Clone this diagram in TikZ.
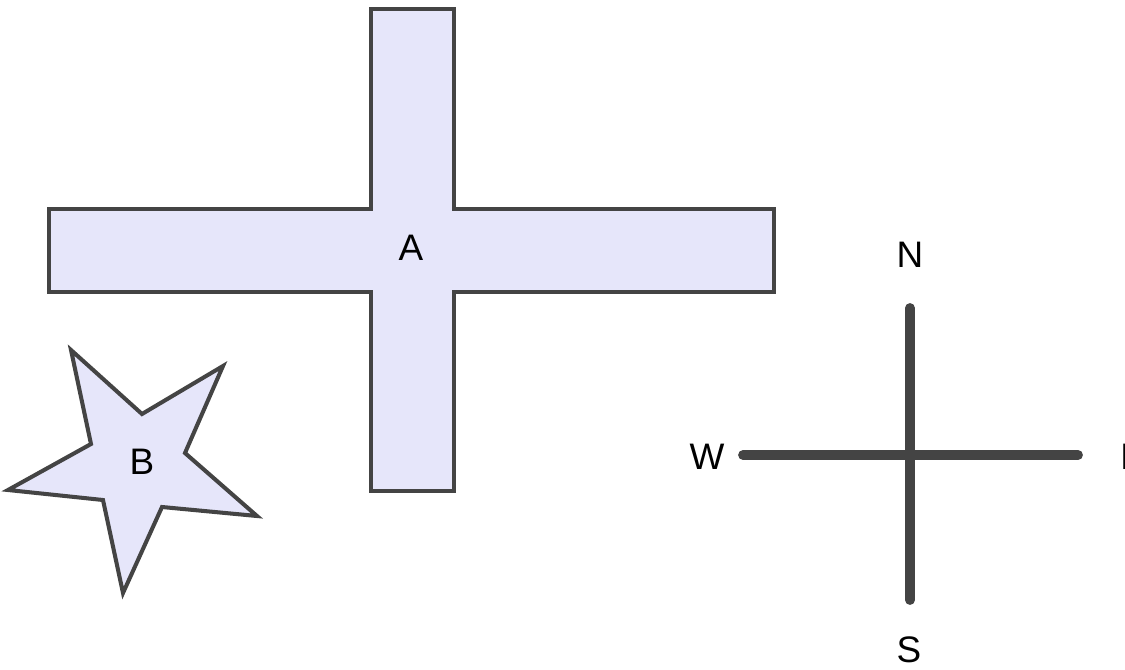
\documentclass[tikz,border=0pt]{standalone}
\usepackage{fontspec}
\setmainfont{Liberation Sans}
\usepackage{tikz}
\usetikzlibrary{positioning}
\definecolor{Ink}{HTML}{444444}
\definecolor{Lilac}{HTML}{E6E6FA}

\tikzset{
  shapeline/.style={draw=Ink,fill=Lilac,line width=2.3pt,line join=miter},
  needle/.style={draw=Ink,line width=5.6pt,line cap=round},
  tag/.style={font=\fontsize{21}{25}\selectfont,text=black,inner sep=0pt}
}

\begin{document}
\begin{tikzpicture}[x=0.02cm,y=-0.02cm]
  \useasboundingbox (0,0) rectangle (1125,669);
  \clip (0,0) rectangle (1125,669);
  % cross A
  \draw[shapeline] (371,9) -- (454,9) -- (454,209) -- (774,209) -- (774,292)
    -- (454,292) -- (454,491) -- (371,491) -- (371,292) -- (49,292)
    -- (49,209) -- (371,209) -- cycle;
  \node[tag] (A) at (411,248) {A};
  % star B
  \draw[shapeline] (71,350) -- (142,414) -- (223,366) -- (185,453) -- (257,516)
    -- (162,507) -- (123,593) -- (103,500) -- (8,490) -- (91,444) -- cycle;
  \node[tag] (B) at (142,462) {B};
  % compass
  \coordinate (cN) at (910,308);
  \coordinate (cS) at (910,600);
  \coordinate (cW) at (743,455);
  \coordinate (cE) at (1078,455);
  \draw[needle] (cN) -- (cS);
  \draw[needle] (cW) -- (cE);
  \node[tag] (N) at (910,255) {N};
  \node[tag] (S) at (909,650) {S};
  \node[tag] (W) at (707,457) {W};
  \node[tag,anchor=west] (E) at (1120,457) {E};
\end{tikzpicture}
\end{document}
